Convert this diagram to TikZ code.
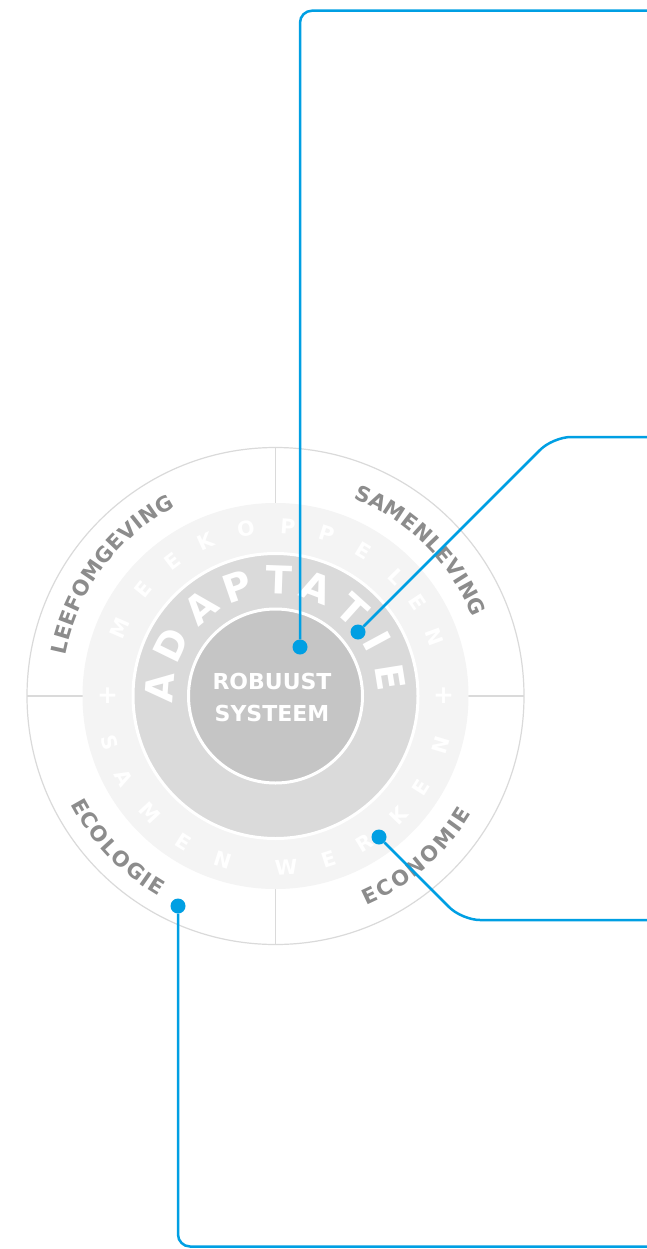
\documentclass[tikz,border=0pt]{standalone}
\usepackage{fontspec}
\setmainfont{DejaVu Sans}
\usetikzlibrary{calc}
\definecolor{cblue}{RGB}{0,159,227}
\definecolor{cgrayline}{RGB}{218,218,218}
\definecolor{cring}{RGB}{244,244,244}
\definecolor{cmid}{RGB}{218,218,218}
\definecolor{cinner}{RGB}{197,197,197}
\definecolor{clabel}{RGB}{140,140,140}
\tikzset{
  dot/.style={circle, fill=cblue, inner sep=0pt, minimum size=15pt},
  link/.style={draw=cblue, line width=2.5pt, rounded corners=12pt},
  bigletter/.style={font=\bfseries\fontsize{38.5}{38.5}\selectfont, text=white, inner sep=0pt},
  ringletter/.style={font=\bfseries\fontsize{20.5}{20.5}\selectfont, text=white, inner sep=0pt},
  plusletter/.style={font=\bfseries\fontsize{25}{25}\selectfont, text=white, inner sep=0pt},
  outerletter/.style={font=\bfseries\fontsize{21}{21}\selectfont, text=clabel, inner sep=0pt},
  quad/.style={draw=cgrayline, line width=1.2pt}
}
\begin{document}
\begin{tikzpicture}[x=1pt,y=1pt]
\useasboundingbox (0,0) rectangle (647,-1249);
\coordinate (C) at (275.5,-696);
% rings
\draw[cgrayline, line width=1.2pt, fill=white] (C) circle (248.5);
\coordinate (qw1) at (27,-696);  \coordinate (qw2) at (83,-696);
\coordinate (qe1) at (468,-696); \coordinate (qe2) at (524,-696);
\coordinate (qn1) at (275.5,-447); \coordinate (qn2) at (275.5,-503);
\coordinate (qs1) at (275.5,-889); \coordinate (qs2) at (275.5,-945);
\draw[quad] (qw1) -- (qw2);
\draw[quad] (qe1) -- (qe2);
\draw[quad] (qn1) -- (qn2);
\draw[quad] (qs1) -- (qs2);
\fill[cring] (C) circle (193);
\draw[white, line width=3pt, fill=cmid] (C) circle (142.5);
\draw[white, line width=3pt, fill=cinner] (C) circle (87);
% ADAPTATIE
\foreach \a/\ch [count=\i] in {175.6/A,153.9/D,129.8/A,109/P,88/T,69.3/A,48/T,28.3/I,9.1/E}
  \node[bigletter, rotate=\a-90] (ad\i) at ($(C)+(\a:116)$) {\ch};
% MEEKOPPELEN
\foreach \a/\ch [count=\i] in {156.5/M,141.1/E,127.4/E,114.4/K,100/O,85.8/P,72.4/P,58.8/E,44.7/L,33.4/E,20.3/N}
  \node[ringletter, rotate=\a-90] (mk\i) at ($(C)+(\a:170)$) {\ch};
% SAMENWERKEN
\foreach \a/\ch [count=\i] in {195.7/S,208.3/A,223/M,237.8/E,252.2/N,273.6/W,288/E,301.2/R,315.8/K,327.8/E,343.4/N}
  \node[ringletter, rotate=\a+90] (sw\i) at ($(C)+(\a:172)$) {\ch};
\node[plusletter] (plusw) at ($(C)+(180:168)$) {+};
\node[plusletter] (pluse) at ($(C)+(0:168)$) {+};
% outer labels
\foreach \a/\ch [count=\i] in {167.2/L,163.34/E,159.36/E,155.38/F,150.95/O,145.7/M,140.53/G,136.18/E,131.96/V,128.56/I,124.99/N,120.23/G}
  \node[outerletter, rotate=\a-90] (lf\i) at ($(C)+(\a:222)$) {\ch};
\foreach \a/\ch [count=\i] in {66.47/S,62.17/A,57.13/M,52.34/E,47.97/N,43.72/L,39.89/E,35.69/V,32.31/I,28.77/N,24.04/G}
  \node[outerletter, rotate=\a-90] (sl\i) at ($(C)+(\a:220)$) {\ch};
\foreach \a/\ch [count=\i] in {209.55/E,213.62/C,218.12/O,222.37/L,226.62/O,231.36/G,234.83/I,237.95/E}
  \node[outerletter, rotate=\a+90] (ec\i) at ($(C)+(\a:224)$) {\ch};
\foreach \a/\ch [count=\i] in {295.35/E,299.63/C,304.36/O,309.36/N,314.36/O,319.78/M,323.93/I,327.25/E}
  \node[outerletter, rotate=\a+90] (en\i) at ($(C)+(\a:221)$) {\ch};
% centre
\node[font=\bfseries\fontsize{22}{32}\selectfont, text=white, align=center] (core) at (272,-697) {ROBUUST\\SYSTEEM};
% connectors
\node[dot] (d1) at (300,-647) {};
\node[dot] (d2) at (358,-632) {};
\node[dot] (d3) at (379,-837) {};
\node[dot] (d4) at (178,-906) {};
\coordinate (e1) at (647,-10.7);
\coordinate (k2) at (553,-437); \coordinate (e2) at (647,-437);
\coordinate (k3) at (462,-920); \coordinate (e3) at (647,-920);
\coordinate (e4) at (647,-1246.5);
\draw[link] (d1) |- (e1);
\draw[link, rounded corners=18pt] (d2) -- (k2) -- (e2);
\draw[link, rounded corners=18pt] (d3) -- (k3) -- (e3);
\draw[link] (d4) |- (e4);
\end{tikzpicture}
\end{document}
